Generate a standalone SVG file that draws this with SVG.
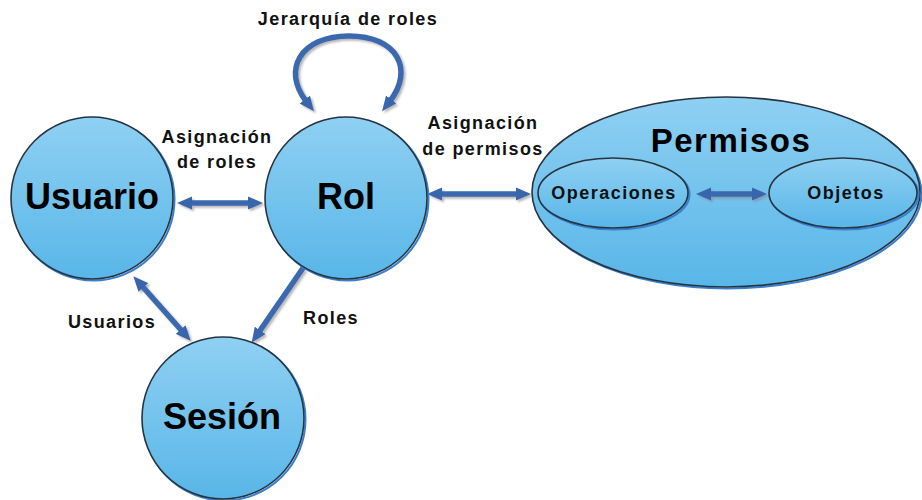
<svg xmlns="http://www.w3.org/2000/svg" width="922" height="500" viewBox="0 0 922 500">
<defs>
<linearGradient id="fill" x1="0" y1="0" x2="0" y2="1">
<stop offset="0" stop-color="#8fd0f2"/>
<stop offset="1" stop-color="#58b6e8"/>
</linearGradient>
<filter id="sh" filterUnits="userSpaceOnUse" x="0" y="0" width="922" height="500">
<feOffset in="SourceAlpha" dx="2" dy="2" result="o"/>
<feGaussianBlur in="o" stdDeviation="1.2" result="b"/>
<feFlood flood-color="#888" flood-opacity="0.6"/>
<feComposite in2="b" operator="in" result="s"/>
<feMerge><feMergeNode in="s"/><feMergeNode in="SourceGraphic"/></feMerge>
</filter>
<marker id="ah" viewBox="0 -7 16 14" refX="2" refY="0" markerWidth="16" markerHeight="14" markerUnits="userSpaceOnUse" orient="auto-start-reverse">
<path d="M0,-6.5 L15,0 L0,6.5 z" fill="#3866ad"/>
</marker>
<style>
.node{fill:url(#fill);stroke:#263440;stroke-width:1.6}
.rim{fill:none;stroke:#3a7fd0;stroke-width:2}
.big{font-family:"Liberation Sans",Arial,sans-serif;font-weight:bold;font-size:36px;fill:#000;text-anchor:middle}
.lbl{font-family:"Liberation Sans",Arial,sans-serif;font-weight:bold;font-size:18px;letter-spacing:1.4px;fill:#111;text-anchor:middle}
.conn{fill:none;stroke:#3b69b0;stroke-width:5.5}
</style>
</defs>
<g id="connectors" filter="url(#sh)">
<line class="conn" x1="190" y1="203" x2="250" y2="203" marker-start="url(#ah)" marker-end="url(#ah)"/>
<line class="conn" x1="440" y1="194" x2="518" y2="194" marker-start="url(#ah)" marker-end="url(#ah)"/>
<line class="conn" x1="142" y1="286" x2="182" y2="331" marker-start="url(#ah)" marker-end="url(#ah)"/>
<line class="conn" x1="303" y1="268" x2="259" y2="332" marker-end="url(#ah)"/>
<path class="conn" d="M306,101 C282,70 300,36 349,36 C398,36 414,70 390,101" marker-start="url(#ah)" marker-end="url(#ah)"/>
</g>
<g id="usuario">
<circle class="rim" cx="93.5" cy="199.5" r="81"/>
<circle class="node" cx="92" cy="198" r="81"/>
<text class="big" x="92" y="209">Usuario</text>
</g>
<g id="rol">
<circle class="rim" cx="347.5" cy="199.5" r="81"/>
<circle class="node" cx="346" cy="198" r="81"/>
<text class="big" x="346" y="209">Rol</text>
</g>
<g id="sesion">
<circle class="rim" cx="224.5" cy="419.5" r="81"/>
<circle class="node" cx="223" cy="418" r="81"/>
<text class="big" x="222" y="429">Sesión</text>
</g>
<g id="permisos">
<ellipse class="rim" cx="727.5" cy="193.5" rx="194" ry="95"/>
<ellipse class="node" cx="726" cy="192" rx="194" ry="95"/>
<text class="big" x="731" y="152" style="font-size:33px;letter-spacing:1.5px">Permisos</text>
</g>
<g id="connectors-inner" filter="url(#sh)">
<line class="conn" x1="709" y1="194" x2="754" y2="194" marker-start="url(#ah)" marker-end="url(#ah)"/>
</g>
<g id="operaciones">
<ellipse class="rim" cx="614.5" cy="194.5" rx="75" ry="35"/>
<ellipse class="node" cx="613" cy="193" rx="75" ry="35"/>
<text class="lbl" x="614" y="199" style="letter-spacing:1.5px">Operaciones</text>
</g>
<g id="objetos">
<ellipse class="rim" cx="844.5" cy="194.5" rx="74" ry="35"/>
<ellipse class="node" cx="843" cy="193" rx="74" ry="35"/>
<text class="lbl" x="846" y="199" style="letter-spacing:1.5px">Objetos</text>
</g>
<g id="labels">
<text class="lbl" x="348" y="25">Jerarquía de roles</text>
<text class="lbl" x="217" y="143">Asignación</text>
<text class="lbl" x="217" y="168">de roles</text>
<text class="lbl" x="483" y="129">Asignación</text>
<text class="lbl" x="483" y="155">de permisos</text>
<text class="lbl" x="112" y="328">Usuarios</text>
<text class="lbl" x="331" y="324">Roles</text>
</g>
</svg>
